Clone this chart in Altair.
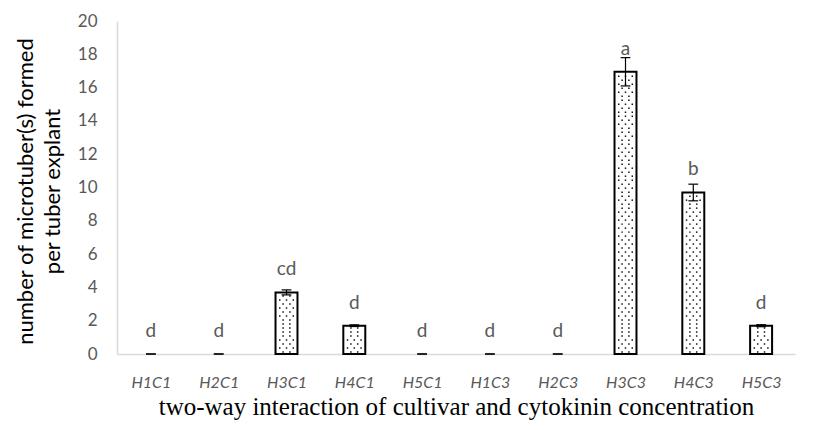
import altair as alt
import pandas as pd

categories = ["H1C1", "H2C1", "H3C1", "H4C1", "H5C1", "H1C3", "H2C3", "H3C3", "H4C3", "H5C3"]
means = [0, 0, 3.7, 1.7, 0, 0, 0, 16.95, 9.7, 1.7]
errors = [0, 0, 0.15, 0.05, 0, 0, 0, 0.85, 0.5, 0.06]
letters = ["d", "d", "cd", "d", "d", "d", "d", "a", "b", "d"]

df = pd.DataFrame({
    "cat": categories,
    "idx": list(range(len(categories))),
    "mean": means,
    "err": errors,
    "letter": letters,
})

label_expr = "[" + ",".join("'" + c + "'" for c in categories) + "][round(datum.value)]"

xscale = alt.Scale(domain=[-0.5, len(categories) - 0.5], nice=False, zero=False)
yscale = alt.Scale(domain=[0, 20], nice=False)

GREY = "#595959"
HALF = 0.162

base = alt.Chart(df)

x_axis = alt.Axis(
    values=list(range(len(categories))), labelExpr=label_expr, ticks=False, grid=False,
    domainColor="#d9d9d9", domainWidth=1.5, labelColor=GREY, labelFont="Lato", labelFontSize=16,
    labelFontStyle="italic", labelPadding=20, labelOverlap=False,
    title="two-way interaction of cultivar and cytokinin concentration",
    titleFont="Liberation Serif", titleFontSize=25, titleFontWeight="normal", titleColor="black",
    titleBaseline="alphabetic", titleY=60,
)
y_axis = alt.Axis(
    values=list(range(0, 21, 2)), ticks=False, grid=False, domainColor="#d9d9d9", domainWidth=1.5,
    labelColor=GREY, labelFont="Lato", labelFontSize=17, labelPadding=20, labelOverlap=False,
    title=["number of microtuber(s) formed", "per tuber explant"],
    titleFont="Lato", titleFontSize=22, titleFontWeight="normal", titleColor="black",
    titleAngle=-90, titleX=-92, titleY=170, titleBaseline="middle", titleAlign="center",
    titleLineHeight=27,
)

X = lambda f: alt.X(f, scale=xscale, axis=x_axis)
Y = lambda f: alt.Y(f, scale=yscale, axis=y_axis)

bars = base.transform_filter("datum.mean > 0").transform_calculate(
    x1=f"datum.idx - {HALF}", x2=f"datum.idx + {HALF}", zero="0"
).mark_bar(fill="white", stroke="black", strokeWidth=2).encode(
    x=X("x1:Q"), x2="x2:Q", y=Y("mean:Q"), y2="zero:Q",
)

dots = base.transform_filter("datum.mean > 0.3").transform_calculate(
    rows="sequence(0.12, datum.mean - 0.08, 0.24)"
).transform_flatten(["rows"]).transform_calculate(
    parity="round(datum.rows / 0.24) % 2",
).transform_calculate(
    offs="datum.parity == 0 ? [-0.1, 0, 0.1] : [-0.05, 0.05]"
).transform_flatten(["offs"]).transform_calculate(
    dx="datum.idx + datum.offs"
).mark_square(size=2.2, color="#111", opacity=1).encode(
    x=X("dx:Q"), y=Y("rows:Q"),
)

err_v = base.transform_filter("datum.err > 0").transform_calculate(
    lo="datum.mean - datum.err", hi="datum.mean + datum.err"
).mark_rule(color="black", strokeWidth=1.2).encode(
    x=X("idx:Q"), y=Y("lo:Q"), y2="hi:Q",
)

caps = base.transform_calculate(
    lo="datum.mean - datum.err", hi="datum.mean + datum.err", c1="datum.idx - 0.072", c2="datum.idx + 0.072"
).transform_fold(["lo", "hi"], as_=["which", "yy"]).mark_rule(color="black", strokeWidth=1.2).encode(
    x=X("c1:Q"), x2="c2:Q", y=Y("yy:Q"),
)

labels = base.mark_text(
    font="Lato", fontSize=19, color=GREY, baseline="alphabetic", dy=-17
).encode(
    x=X("idx:Q"), y=Y("mean:Q"), text="letter:N",
)

chart = alt.layer(bars, dots, err_v, caps, labels).properties(
    width=678, height=333,
    autosize=alt.AutoSizeParams(type="none"),
    padding={"left": 109, "top": 13, "right": 20, "bottom": 68},
).configure_view(stroke=None)

chart.save("out.html", embed_options={"renderer": "svg", "actions": False})
